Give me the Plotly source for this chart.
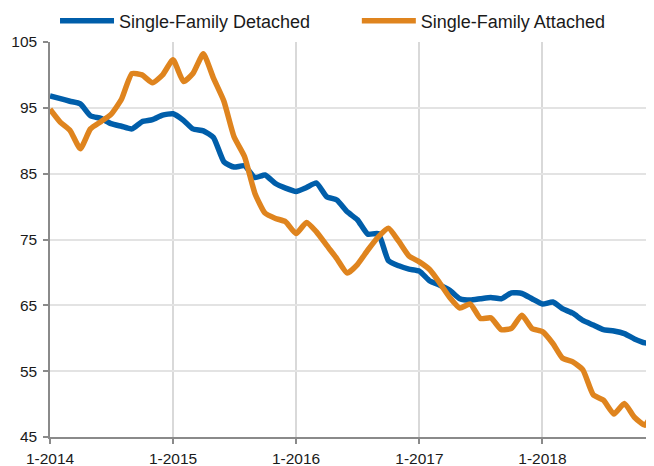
import pandas as pd
import plotly.graph_objects as go

dates = list(pd.date_range("2014-01-01", periods=59, freq="MS").strftime("%Y-%m-%d")) + ["2018-11-25"]

detached = [96.8, 96.4, 96.0, 95.6, 93.8, 93.4, 92.6, 92.2, 91.8, 92.9,
            93.2, 93.9, 94.1, 93.1, 91.8, 91.5, 90.5, 86.8, 86.0, 86.2,
            84.4, 84.8, 83.5, 82.8, 82.3, 82.9, 83.6, 81.5, 81.0, 79.2,
            78.0, 75.8, 75.9, 71.8, 71.0, 70.5, 70.2, 68.7, 68.1, 67.3,
            66.0, 65.8, 66.0, 66.2, 66.0, 66.9, 66.8, 66.0, 65.2, 65.5,
            64.5, 63.8, 62.7, 62.0, 61.3, 61.1, 60.7, 59.9, 59.3, 59.3]

attached = [94.8, 92.8, 91.6, 88.8, 91.8, 92.9, 94.0, 96.3, 100.2, 100.0,
            98.8, 100.0, 102.3, 99.0, 100.2, 103.2, 99.5, 96.0, 90.6, 87.6,
            82.0, 79.0, 78.2, 77.7, 75.9, 77.6, 76.2, 74.1, 72.1, 69.9,
            71.2, 73.4, 75.4, 76.7, 74.7, 72.5, 71.6, 70.4, 68.5, 66.2,
            64.6, 65.2, 63.0, 63.1, 61.3, 61.5, 63.5, 61.5, 61.0, 59.2,
            57.0, 56.4, 55.2, 51.4, 50.6, 48.5, 50.1, 48.0, 46.8, 48.8]

series_names = ["Single-Family Detached", "Single-Family Attached"]
x_tick_vals = ["2014-01-01", "2015-01-01", "2016-01-01", "2017-01-01", "2018-01-01"]
x_tick_text = ["1-2014", "1-2015", "1-2016", "1-2017", "1-2018"]
y_tick_vals = [45, 55, 65, 75, 85, 95, 105]

BLUE = "#005EAA"
ORANGE = "#DF841E"
FONT = "Liberation Sans, Arial, Helvetica, sans-serif"

fig = go.Figure()
fig.add_trace(go.Scatter(x=dates, y=detached, name=series_names[0], mode="lines",
                         line=dict(color=BLUE, width=5.5, shape="spline", smoothing=0.5),
                         legend="legend", showlegend=True))
fig.add_trace(go.Scatter(x=dates, y=attached, name=series_names[1], mode="lines",
                         line=dict(color=ORANGE, width=5.5, shape="spline", smoothing=0.5),
                         legend="legend2", showlegend=True))

legend_common = dict(orientation="h", xanchor="left", y=1.053, yanchor="middle",
                     font=dict(size=18, family=FONT, color="#1a1a1a"),
                     itemwidth=54, bgcolor="rgba(0,0,0,0)", visible=True)

# page body has an 8px margin: figure is sized so the plot lands where the reference has it
fig.update_layout(
    width=646, height=458,
    showlegend=True,
    margin=dict(l=42, r=0, t=34, b=29, autoexpand=False),
    paper_bgcolor="white", plot_bgcolor="white",
    font=dict(family=FONT, size=15.5, color="#1a1a1a"),
    legend=dict(x=0.0083, **legend_common),
    legend2=dict(x=0.508, **legend_common),
)
fig.update_xaxes(
    type="date", range=["2014-01-01", "2018-11-28"],
    tickvals=x_tick_vals, ticktext=x_tick_text,
    showgrid=True, gridcolor="#d9d9d9", gridwidth=1.5,
    showline=True, linecolor="#8a8a8a", linewidth=1.5,
    ticks="outside", ticklen=5, tickcolor="#8a8a8a", tickwidth=1.5,
    ticklabelstandoff=2, zeroline=False,
)
fig.update_yaxes(
    range=[45, 105], tickvals=y_tick_vals,
    showgrid=True, gridcolor="#e3e3e3", gridwidth=1.5,
    showline=True, linecolor="#8a8a8a", linewidth=1.5,
    ticks="outside", ticklen=5, tickcolor="#8a8a8a", tickwidth=1.5,
    ticklabelstandoff=3, zeroline=False,
)

fig.write_html("out.html")
